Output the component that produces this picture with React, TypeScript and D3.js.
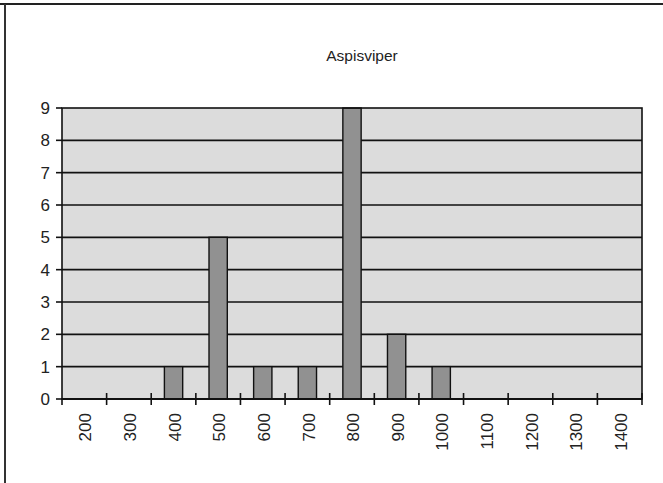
import React from "react";
import * as d3 from "d3";

const title = "Aspisviper";
const categories = ["200", "300", "400", "500", "600", "700", "800", "900", "1000", "1100", "1200", "1300", "1400"];
const values = [0, 0, 1, 5, 1, 1, 9, 2, 1, 0, 0, 0, 0];
const yTicks = [0, 1, 2, 3, 4, 5, 6, 7, 8, 9];

const W = 663;
const H = 483;
const left = 62;
const right = 642;
const top = 108;
const bottom = 399;
const font = "'Liberation Sans', Arial, Helvetica, sans-serif";

export default function App() {
  const x = d3.scaleBand<string>().domain(categories).range([left, right]).paddingInner(0).paddingOuter(0);
  const y = d3.scaleLinear().domain([0, 9]).range([bottom, top]);
  const bw = x.bandwidth() * 0.41;
  return (
    <svg width={W} height={H} style={{ position: "absolute", left: 0, top: 0, background: "#fff" }}>
      <line x1={0} x2={W} y1={4} y2={4} stroke="#222" strokeWidth={2} />
      <line x1={5} x2={5} y1={4} y2={H} stroke="#333" strokeWidth={2} />
      <text x={362} y={61} textAnchor="middle" fontFamily={font} fontSize={15.5} fill="#222">{title}</text>
      <rect x={left} y={top} width={right - left} height={bottom - top} fill="#dcdcdc" />
      {yTicks.filter((t) => t > 0 && t < 9).map((t) => (
        <line key={t} x1={left} x2={right} y1={y(t)} y2={y(t)} stroke="#111" strokeWidth={1.6} />
      ))}
      {categories.map((c, i) => values[i] > 0 ? (
        <rect key={c} x={x(c)! + x.bandwidth() / 2 - bw / 2} y={y(values[i])} width={bw} height={y(0) - y(values[i])}
          fill="#919191" stroke="#111" strokeWidth={1.4} />
      ) : null)}
      <rect x={left} y={top} width={right - left} height={bottom - top} fill="none" stroke="#111" strokeWidth={1.6} />
      {yTicks.map((t) => (
        <g key={t}>
          <line x1={left - 6} x2={left} y1={y(t)} y2={y(t)} stroke="#111" strokeWidth={1.6} />
          <text x={50} y={y(t)} dy="0.36em" textAnchor="end" fontFamily={font} fontSize={17} fill="#222">{t}</text>
        </g>
      ))}
      <line x1={left} x2={right} y1={bottom} y2={bottom} stroke="#111" strokeWidth={2} />
      {categories.map((c, i) => (
        <line key={"t" + c} x1={left + x.step() * (i + 1)} x2={left + x.step() * (i + 1)} y1={bottom - 6} y2={bottom + 6} stroke="#111" strokeWidth={1.6} />
      ))}
      <line x1={left} x2={left} y1={bottom - 1} y2={bottom + 6} stroke="#111" strokeWidth={1.6} />
      {categories.map((c) => {
        const cx = x(c)! + x.bandwidth() / 2;
        return (
          <text key={"l" + c} transform={`translate(${cx + 1},${413}) rotate(-90)`} dy="0.36em" textAnchor="end"
            fontFamily={font} fontSize={17} fill="#222">{c}</text>
        );
      })}
    </svg>
  );
}
